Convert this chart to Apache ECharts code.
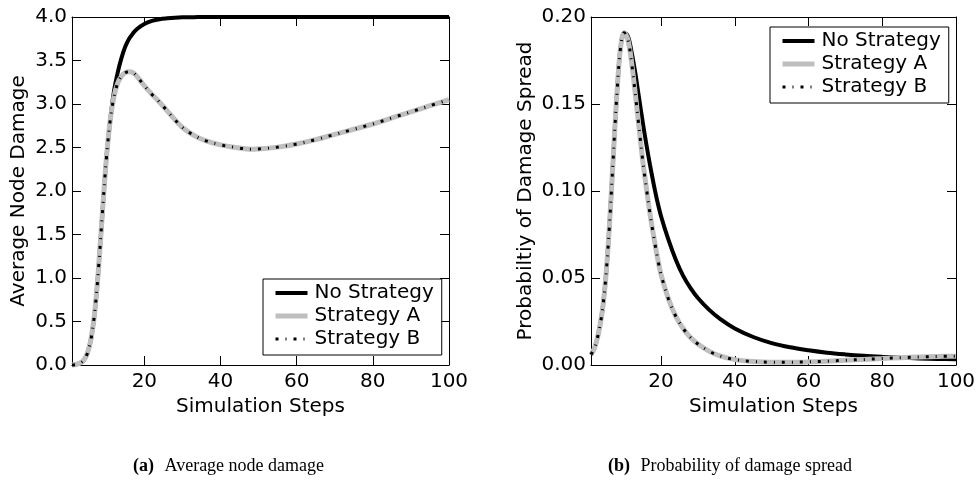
<!DOCTYPE html>
<html>
<head>
<meta charset="utf-8">
<script src="https://cdn.jsdelivr.net/npm/echarts@6/dist/echarts.min.js"></script>
<style>
  html, body { margin: 0; padding: 0; background: #fff; }
  #chart { width: 979px; height: 480px; }
</style>
</head>
<body>
<div id="chart"></div>
<script>
  // (a) average node damage
  var stepsDamage = [1, 2, 3, 4, 5, 6, 7, 8, 9, 10, 11, 12, 13, 14, 15, 16, 17, 18, 20, 22, 24, 26, 28, 30, 33, 36, 40, 44, 48, 52, 56, 60, 65, 70, 75, 80, 85, 90, 95, 100];
  var damageNone = [0, 0.005, 0.02, 0.05, 0.13, 0.3, 0.62, 1.13, 1.76, 2.36, 2.8, 3.14, 3.36, 3.53, 3.66, 3.75, 3.81, 3.86, 3.92, 3.955, 3.975, 3.985, 3.992, 3.996, 3.998, 4, 4, 4, 4, 4, 4, 4, 4, 4, 4, 4, 4, 4, 4, 4];
  var damageA = [0, 0.005, 0.02, 0.05, 0.13, 0.3, 0.62, 1.13, 1.76, 2.36, 2.8, 3.08, 3.24, 3.32, 3.36, 3.37, 3.36, 3.32, 3.21, 3.11, 3.02, 2.92, 2.82, 2.73, 2.64, 2.58, 2.53, 2.5, 2.48, 2.49, 2.51, 2.54, 2.59, 2.65, 2.71, 2.77, 2.84, 2.91, 2.98, 3.05];
  var damageB = [0, 0.005, 0.02, 0.05, 0.13, 0.3, 0.62, 1.13, 1.76, 2.36, 2.8, 3.08, 3.24, 3.32, 3.36, 3.37, 3.36, 3.32, 3.21, 3.11, 3.02, 2.92, 2.82, 2.73, 2.64, 2.58, 2.53, 2.5, 2.48, 2.49, 2.51, 2.54, 2.59, 2.65, 2.71, 2.77, 2.84, 2.91, 2.98, 3.05];

  // (b) probability of damage spread
  var stepsSpread = [1, 2, 3, 4, 5, 6, 7, 8, 9, 10, 11, 12, 13, 14, 15, 16, 17, 18, 19, 20, 22, 24, 26, 28, 30, 33, 36, 40, 45, 50, 55, 60, 65, 70, 75, 80, 85, 90, 95, 100];
  var spreadNone = [0.006, 0.01, 0.018, 0.03, 0.05, 0.08, 0.118, 0.155, 0.182, 0.191, 0.189, 0.18, 0.168, 0.154, 0.14, 0.127, 0.115, 0.104, 0.094, 0.0855, 0.072, 0.0605, 0.0512, 0.0442, 0.0385, 0.0318, 0.0265, 0.021, 0.0161, 0.0126, 0.0102, 0.0085, 0.0071, 0.0061, 0.0053, 0.0047, 0.0042, 0.0038, 0.0035, 0.0033];
  var spreadA = [0.006, 0.01, 0.018, 0.03, 0.05, 0.08, 0.118, 0.155, 0.182, 0.191, 0.187, 0.174, 0.156, 0.137, 0.118, 0.102, 0.087, 0.074, 0.062, 0.052, 0.038, 0.028, 0.021, 0.0158, 0.0121, 0.008, 0.0052, 0.0031, 0.002, 0.0016, 0.0016, 0.0018, 0.0022, 0.0027, 0.0032, 0.0037, 0.0042, 0.0046, 0.0049, 0.0051];
  var spreadB = [0.006, 0.01, 0.018, 0.03, 0.05, 0.08, 0.118, 0.155, 0.182, 0.191, 0.187, 0.174, 0.156, 0.137, 0.118, 0.102, 0.087, 0.074, 0.062, 0.052, 0.038, 0.028, 0.021, 0.0158, 0.0121, 0.008, 0.0052, 0.0031, 0.002, 0.0016, 0.0016, 0.0018, 0.0022, 0.0027, 0.0032, 0.0037, 0.0042, 0.0046, 0.0049, 0.0051];

  var xTicks = [20, 40, 60, 80, 100];
  var seriesNames = ['No Strategy', 'Strategy A', 'Strategy B'];

  var FONT = 'DejaVu Sans';
  var GRAY = '#bfbfbf';
  var DASHDOT = [3, 7, 1, 7];

  function pairs(xs, ys) {
    return xs.map(function (x, i) { return [x, ys[i]]; });
  }

  function xAxes(gridIndex) {
    var base = {
      type: 'value', gridIndex: gridIndex, min: 1, max: 100,
      splitLine: { show: false },
      axisLine: { show: true, onZero: false, lineStyle: { color: '#000', width: 1 } },
      axisTick: { show: true, inside: true, length: 9, customValues: xTicks, lineStyle: { color: '#000' } }
    };
    var bottom = Object.assign({}, base, {
      position: 'bottom',
      name: 'Simulation Steps', nameLocation: 'middle', nameGap: 31,
      nameTextStyle: { fontFamily: FONT, fontSize: 20, color: '#000' },
      axisLabel: { show: true, customValues: xTicks, margin: 7, fontFamily: FONT, fontSize: 20, color: '#000' }
    });
    var top = Object.assign({}, base, { position: 'top', axisLabel: { show: false } });
    return [bottom, top];
  }

  function yAxes(gridIndex, max, interval, digits, name, gap) {
    var base = {
      type: 'value', gridIndex: gridIndex, min: 0, max: max, interval: interval,
      splitLine: { show: false },
      axisLine: { show: true, onZero: false, lineStyle: { color: '#000', width: 1 } },
      axisTick: { show: true, inside: true, length: 9, lineStyle: { color: '#000' } }
    };
    var left = Object.assign({}, base, {
      position: 'left',
      name: name, nameLocation: 'middle', nameGap: gap,
      nameTextStyle: { fontFamily: FONT, fontSize: 20, color: '#000' },
      axisLabel: {
        show: true, margin: 5, fontFamily: FONT, fontSize: 20, color: '#000',
        formatter: function (v) { return v.toFixed(digits); }
      }
    });
    var right = Object.assign({}, base, { position: 'right', axisLabel: { show: false } });
    return [left, right];
  }

  function lineSeries(name, data, axisIdx, style) {
    return {
      name: name, type: 'line', xAxisIndex: axisIdx, yAxisIndex: axisIdx,
      data: data, showSymbol: false, symbol: 'none', smooth: 0.35,
      clip: false, silent: true,
      itemStyle: { color: style.color },
      lineStyle: style
    };
  }

  function legendFor(left, top) {
    var noDot = { opacity: 0 };
    return {
      orient: 'vertical', left: left, top: top,
      itemWidth: 32, itemHeight: 20, itemGap: 3,
      padding: [4, 8, 6, 10],
      borderColor: '#000', borderWidth: 1, borderRadius: 0,
      backgroundColor: '#fff',
      textStyle: { fontFamily: FONT, fontSize: 20, color: '#000', lineHeight: 20, padding: [0, 0, 0, 2] },
      data: [
        { name: seriesNames[0], itemStyle: noDot, lineStyle: { color: '#000', width: 4 } },
        { name: seriesNames[1], itemStyle: noDot, lineStyle: { color: GRAY, width: 5 } },
        { name: seriesNames[2], itemStyle: noDot, lineStyle: { color: '#000', width: 3, type: DASHDOT, cap: 'butt' } }
      ]
    };
  }

  function caption(tag, text, left) {
    return {
      text: '{b|' + tag + '} ' + text, left: left, top: 452,
      textStyle: {
        fontFamily: 'Liberation Serif', fontSize: 18, fontWeight: 'normal', color: '#000',
        rich: { b: { fontFamily: 'Liberation Serif', fontSize: 18, fontWeight: 'bold', color: '#000', padding: [0, 6, 0, 0] } }
      }
    };
  }

  var chart = echarts.init(document.getElementById('chart'), null, { renderer: 'canvas' });

  var xs = xAxes(0).concat(xAxes(1));
  var ys = yAxes(0, 4, 0.5, 1, 'Average Node Damage', 43)
    .concat(yAxes(1, 0.2, 0.05, 2, 'Probabiltiy of Damage Spread', 55));

  chart.setOption({
    backgroundColor: '#fff',
    animation: false,
    grid: [
      { left: 72, top: 17, width: 377, height: 348 },
      { left: 591, top: 17, width: 365, height: 348 }
    ],
    xAxis: xs,
    yAxis: ys,
    legend: [legendFor(263, 279), legendFor(770, 27)],
    title: [
      caption('(a)', 'Average node damage', 128),
      caption('(b)', 'Probability of damage spread', 603)
    ],
    series: [
      lineSeries(seriesNames[0], pairs(stepsDamage, damageNone), 0, { color: '#000', width: 4 }),
      lineSeries(seriesNames[1], pairs(stepsDamage, damageA), 0, { color: GRAY, width: 5 }),
      lineSeries(seriesNames[2], pairs(stepsDamage, damageB), 0, { color: '#000', width: 3, type: DASHDOT, cap: 'butt' }),
      lineSeries(seriesNames[0], pairs(stepsSpread, spreadNone), 2, { color: '#000', width: 4 }),
      lineSeries(seriesNames[1], pairs(stepsSpread, spreadA), 2, { color: GRAY, width: 5 }),
      lineSeries(seriesNames[2], pairs(stepsSpread, spreadB), 2, { color: '#000', width: 3, type: DASHDOT, cap: 'butt' })
    ]
  });
</script>
</body>
</html>
